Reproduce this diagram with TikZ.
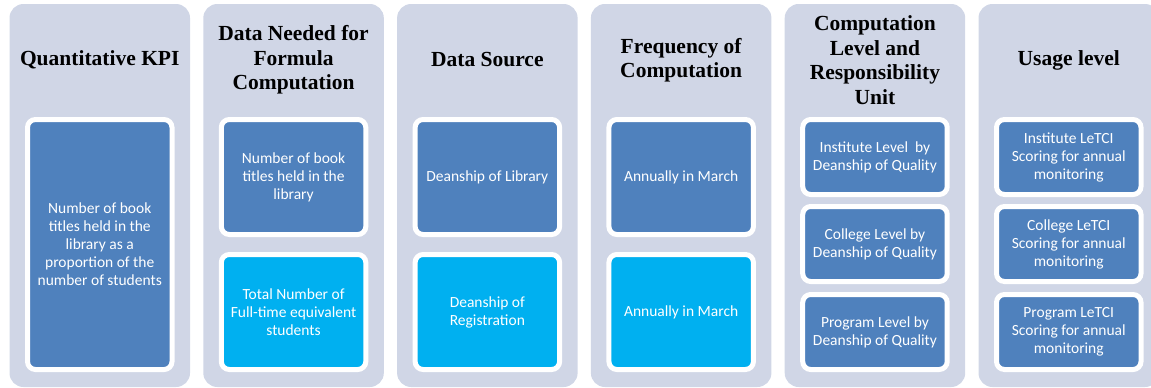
\documentclass[tikz,border=0pt]{standalone}
\usepackage{fontspec}
\setmainfont{Liberation Serif}
\newfontfamily\boxfont{Carlito}
\usepackage{tikz}
\usepackage{xcolor}
\definecolor{panelgray}{HTML}{D0D6E6}
\definecolor{boxblue}{HTML}{4F81BD}
\definecolor{boxcyan}{HTML}{00B0F0}

\tikzset{
    panel/.style={shape=rectangle, fill=panelgray, rounded corners=14pt, minimum width=180.5pt, minimum height=383pt, inner sep=0pt},
    heading/.style={align=center, inner sep=0pt, font=\fontsize{21.5}{24.5}\selectfont\bfseries},
    itembox/.style={shape=rectangle, draw=white, line width=5pt, rounded corners=8pt, minimum width=144.5pt, inner sep=0pt, align=center, text=white, font=\boxfont\fontsize{15.5}{18}\selectfont},
    tallbox/.style={itembox, fill=boxblue, minimum height=250pt},
    halfbox/.style={itembox, minimum height=115pt},
    thirdbox/.style={itembox, fill=boxblue, minimum height=75pt},
}

\begin{document}
\begin{tikzpicture}[x=1pt, y=-1pt]
        \useasboundingbox (0,0) rectangle (1151,388);
        \clip (0,0) rectangle (1151,388);
        % Panels
        \node[panel] (P1) at (99.75, 195.5) {};
        \node[panel] (P2) at (293.55, 195.5) {};
        \node[panel] (P3) at (487.35, 195.5) {};
        \node[panel] (P4) at (681.15, 195.5) {};
        \node[panel] (P5) at (874.95, 195.5) {};
        \node[panel] (P6) at (1068.75, 195.5) {};
        % Headings
        \node[heading] (T1) at (99.75, 60) {Quantitative KPI};
        \node[heading] (T2) at (293.55, 60) {Data Needed for\\Formula\\Computation};
        \node[heading] (T3) at (487.35, 60) {Data Source};
        \node[heading] (T4) at (681.15, 60) {Frequency of\\Computation};
        \node[heading] (T5) at (874.95, 60) {Computation\\Level and\\Responsibility\\Unit};
        \node[heading] (T6) at (1068.75, 60) {Usage level};
        % Boxes
        \node[tallbox] (K1) at (99.75, 244.5) {Number of book\\titles held in the\\library as a\\proportion of the\\number of students};
        \node[halfbox, fill=boxblue] (D1) at (293.55, 177) {Number of book\\titles held in the\\library};
        \node[halfbox, fill=boxcyan] (D2) at (293.55, 312) {Total Number of\\Full-time equivalent\\students};
        \node[halfbox, fill=boxblue] (S1) at (487.35, 177) {Deanship of Library};
        \node[halfbox, fill=boxcyan] (S2) at (487.35, 312) {Deanship of\\Registration};
        \node[halfbox, fill=boxblue] (F1) at (681.15, 177) {Annually in March};
        \node[halfbox, fill=boxcyan] (F2) at (681.15, 312) {Annually in March};
        \node[thirdbox] (C1) at (874.95, 157) {Institute Level~ by\\Deanship of Quality};
        \node[thirdbox] (C2) at (874.95, 244) {College Level by\\Deanship of Quality};
        \node[thirdbox] (C3) at (874.95, 332) {Program Level by\\Deanship of Quality};
        \node[thirdbox] (U1) at (1068.75, 157) {Institute LeTCI\\Scoring for annual\\monitoring};
        \node[thirdbox] (U2) at (1068.75, 244) {College LeTCI\\Scoring for annual\\monitoring};
        \node[thirdbox] (U3) at (1068.75, 332) {Program LeTCI\\Scoring for annual\\monitoring};
    \end{tikzpicture}
\end{document}
